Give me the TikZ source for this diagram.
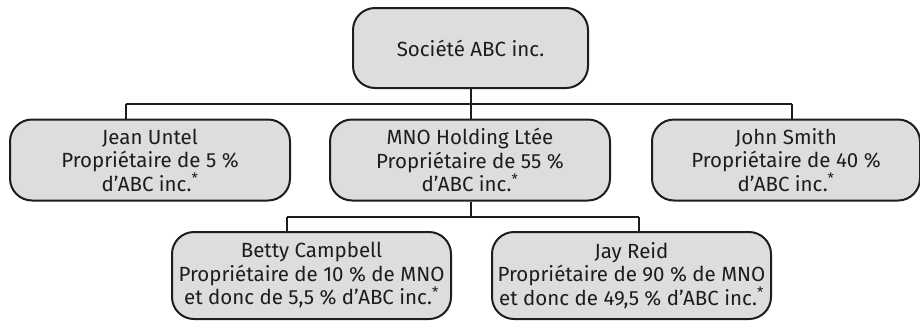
\documentclass[tikz,border=0pt]{standalone}
\usepackage{fontspec}
\setmainfont{Fira Sans}
\definecolor{boxfill}{RGB}{220,221,222}
\definecolor{ink}{RGB}{30,28,29}
\begin{document}
\begin{tikzpicture}[x=1pt,y=1pt,
  orgbox/.style={draw=ink, line width=2pt, fill=boxfill, rounded corners=22pt,
    align=center, inner sep=0pt, text=ink,
    font=\fontsize{20.5}{23.5}\selectfont},
  link/.style={draw=ink, line width=2pt}]
\useasboundingbox (0,0) rectangle (920,-322);
\node[orgbox, minimum width=235pt, minimum height=80pt] (abc) at (470.5,-48) {Société ABC inc.};
\node[orgbox, minimum width=280pt, minimum height=81pt] (jean) at (150,-160) {Jean Untel\\Propriétaire de 5 \%\\d’ABC inc.\textsuperscript{*}};
\node[orgbox, minimum width=280pt, minimum height=81pt] (mno) at (470,-160) {MNO Holding Ltée\\Propriétaire de 55 \%\\d’ABC inc.\textsuperscript{*}};
\node[orgbox, minimum width=268pt, minimum height=81pt] (john) at (786,-160) {John Smith\\Propriétaire de 40 \%\\d’ABC inc.\textsuperscript{*}};
\node[orgbox, minimum width=279pt, minimum height=87pt] (betty) at (311.5,-275.5) {Betty Campbell\\Propriétaire de 10 \% de MNO\\et donc de 5,5 \% d’ABC inc.\textsuperscript{*}};
\node[orgbox, minimum width=279pt, minimum height=87pt] (jay) at (631.5,-275.5) {Jay Reid\\Propriétaire de 90 \% de MNO\\et donc de 49,5 \% d’ABC inc.\textsuperscript{*}};
\coordinate (bus1) at (471,-104);
\coordinate (bus2) at (471,-217);
\draw[link] (abc.south -| bus1) -- (bus1);
\draw[link] (126,-104) -- (792,-104);
\draw[link] (126,-104) -- (jean.north -| 126,0);
\draw[link] (bus1) -- (mno.north -| bus1);
\draw[link] (792,-104) -- (john.north -| 792,0);
\draw[link] (mno.south -| bus2) -- (bus2);
\draw[link] (287,-217) -- (639,-217);
\draw[link] (287,-217) -- (betty.north -| 287,0);
\draw[link] (639,-217) -- (jay.north -| 639,0);
\end{tikzpicture}
\end{document}
